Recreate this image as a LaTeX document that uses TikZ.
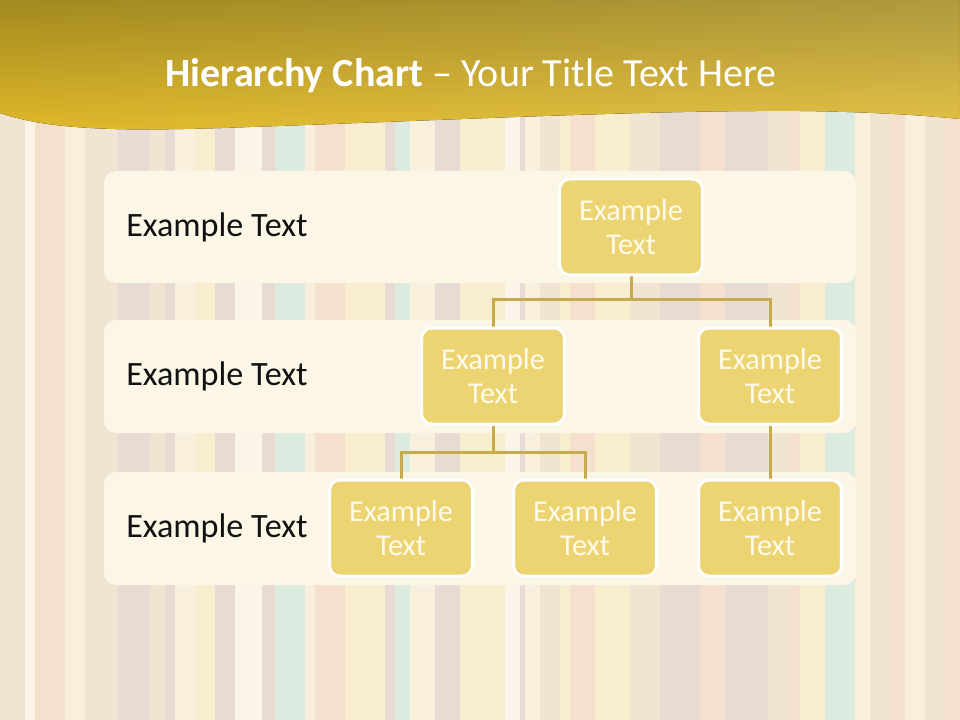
\documentclass[tikz,border=0pt]{standalone}
\usepackage{fontspec}
\setmainfont{Carlito}
\usetikzlibrary{positioning,fadings}
\definecolor{sA}{HTML}{E2D1C7}
\definecolor{sB}{HTML}{F3D6BF}
\definecolor{sC}{HTML}{F7ECD4}
\definecolor{sD}{HTML}{F7E8C2}
\definecolor{sE}{HTML}{EEDDC6}
\definecolor{sF}{HTML}{D3E5D6}
\definecolor{sG}{HTML}{FAF2E2}
\definecolor{panelc}{HTML}{FBF6E5}
\definecolor{boxc}{HTML}{EDD472}
\definecolor{boxtext}{HTML}{FFFBEA}
\definecolor{connc}{HTML}{C6AA4E}
\definecolor{titletop}{HTML}{A3891F}
\definecolor{titlebot}{HTML}{E0B92A}
\definecolor{labelc}{HTML}{111111}
\pgfdeclarelayer{bg}
\pgfdeclarelayer{conn}
\pgfsetlayers{bg,conn,main}
\tikzset{
  panel/.style={fill=panelc, rounded corners=9pt, draw=none},
  orgbox/.style={rectangle, fill=boxc, draw=white, line width=2.25pt,
    rounded corners=7.5pt, minimum width=107pt, minimum height=72pt,
    text=boxtext, align=center, inner sep=0pt,
    font=\fontsize{22.7}{25}\selectfont},
  rowlabel/.style={anchor=west, text=labelc, inner sep=0pt,
    font=\fontsize{25.6}{28}\selectfont},
  conn/.style={draw=connc, line width=2.25pt}
}
\begin{document}
\begin{tikzpicture}[x=0.75pt, y=-0.75pt]
\useasboundingbox (0,0) rectangle (960,720);
\begin{pgfonlayer}{bg}
  % striped background
  \foreach \a/\b/\c in {0/25/sE, 25/35/sG, 35/65/sB, 65/85/sC, 85/105/sE,
    105/118/sE, 118/150/sA, 150/165/sE, 165/175/sA, 175/195/sC, 195/215/sD,
    215/235/sA, 235/262/sG, 262/275/sA, 275/305/sF, 305/315/sC, 315/345/sB,
    345/385/sD, 385/395/sA, 395/410/sF, 410/435/sC, 435/460/sA, 460/505/sD,
    505/520/sG, 520/525/sA, 525/540/sC, 540/560/sE, 560/570/sD, 570/595/sB,
    595/605/sD, 605/630/sD, 630/660/sE, 660/700/sA, 700/725/sB, 725/768/sA,
    768/790/sE, 790/800/sB, 800/825/sD, 825/855/sF, 855/870/sC, 870/890/sE,
    890/905/sB, 905/925/sC, 925/945/sE, 945/960/sB}
    \fill[\c] (\a,0) rectangle (\b,720);
  \fill[white, opacity=0.22] (0,0) rectangle (960,720);
  % title band
  \fill[top color=titletop, bottom color=titlebot]
    (0,0) -- (960,0) -- (960,119)
    .. controls (930,116) and (880,112) .. (800,111)
    .. controls (650,110) and (450,120) .. (250,127)
    .. controls (120,132) and (50,130) .. (0,113) -- cycle;
  \fill[white, opacity=0.14, path fading=west]
    (0,0) -- (960,0) -- (960,119)
    .. controls (930,116) and (880,112) .. (800,111)
    .. controls (650,110) and (450,120) .. (250,127)
    .. controls (120,132) and (50,130) .. (0,113) -- cycle;
  % row panels
  \fill[panel] (104,171) rectangle (856,283);
  \fill[panel] (104,320) rectangle (856,433);
  \fill[panel] (104,472) rectangle (856,585);
\end{pgfonlayer}

\node[text=white, font=\fontsize{30}{34}\selectfont] (title) at (471,76)
  {\textbf{Hierarchy Chart} -- Your Title Text Here};

\node[rowlabel] (lab1) at (126,227) {Example Text};
\node[rowlabel] (lab2) at (126,376) {Example Text};
\node[rowlabel] (lab3) at (126,528) {Example Text};

\node[orgbox] (top) at (631,227) {Example\\Text};
\node[orgbox] (l2) at (493,376) {Example\\Text};
\node[orgbox] (r2) at (770,376) {Example\\Text};
\node[orgbox] (b1) at (401,528) {Example\\Text};
\node[orgbox] (b2) at (585,528) {Example\\Text};
\node[orgbox] (b3) at (770,528) {Example\\Text};

\coordinate (j1) at (631,300);
\coordinate (j2) at (493,452);
\begin{pgfonlayer}{conn}
  \draw[conn] (top.south) -- (j1);
  \draw[conn] (l2.north) |- (j1) -| (r2.north);
  \draw[conn] (l2.south) -- (j2);
  \draw[conn] (b1.north) |- (j2) -| (b2.north);
  \draw[conn] (r2.south) -- (b3.north);
\end{pgfonlayer}
\end{tikzpicture}
\end{document}
